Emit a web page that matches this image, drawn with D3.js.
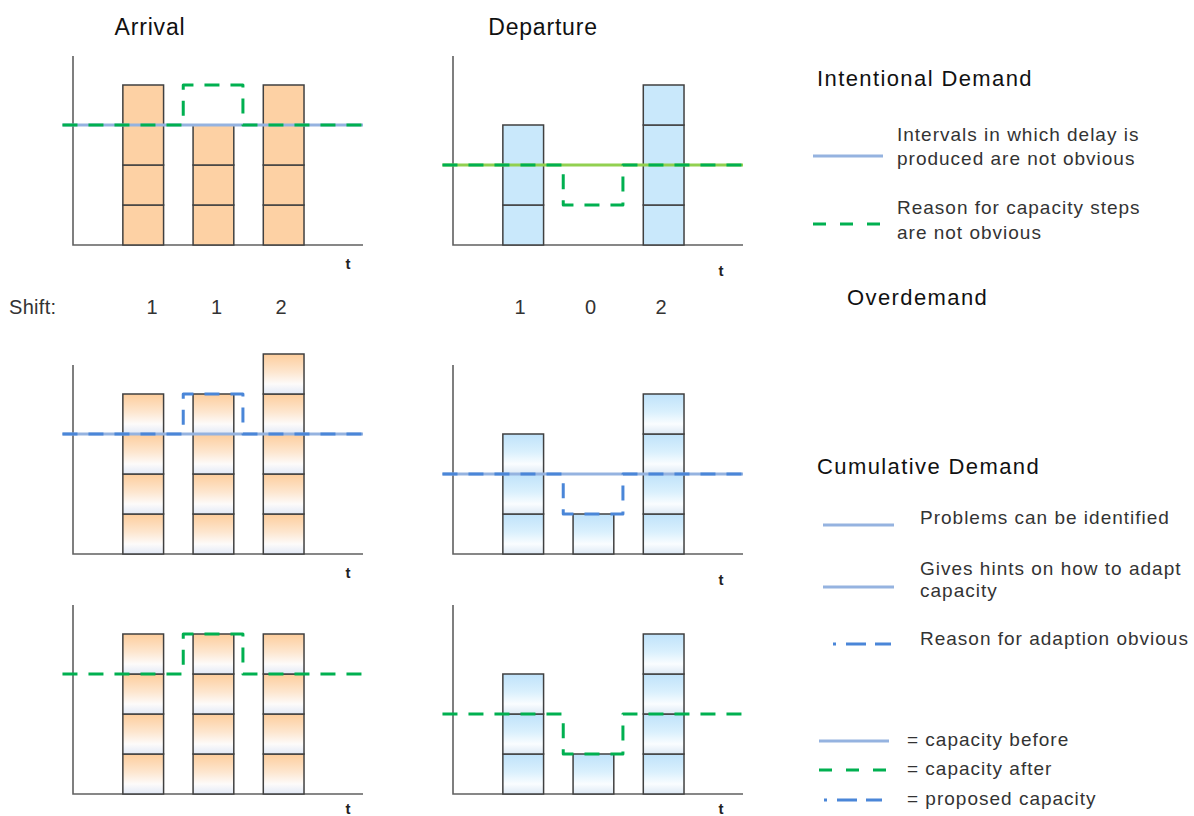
<!DOCTYPE html>
<html>
<head>
<meta charset="utf-8">
<script src="https://cdn.jsdelivr.net/npm/d3@7"></script>
<style>
  body { margin: 0; background: #fff; }
  text { font-family: "Liberation Sans", Arial, sans-serif; }
</style>
</head>
<body>
<div id="chart"></div>
<script>
// Capacity vs. demand sketch: arrival / departure panels + explanatory legend
const width = 1194;
const height = 816;

// demand per time slot (units), one row per panel row
const arrivalDemand = [[4, 3, 4], [4, 4, 5], [4, 4, 4]];
const departureDemand = [[3, 0, 4], [3, 1, 4], [3, 1, 4]];
// capacity before (solid), null = not drawn
const arrivalBefore = [3, 3, null];
const departureBefore = [2, 2, null];
// adapted capacity per slot (dashed step line)
const arrivalAdapted = [[3, 4, 3], [3, 4, 3], [3, 4, 3]];
const departureAdapted = [[2, 1, 2], [2, 1, 2], [2, 1, 2]];
const stepTimes = [1.57, 2.42];
const shiftArrival = ["1", "1", "2"];
const shiftDeparture = ["1", "0", "2"];

const rowStyles = ["green", "blue", "green"];
const rowGradient = [false, true, true];

const colors = {
    lightBlue: "#95b3e0",
    lightGreen: "#92d050",
    green: "#00b050",
    blue: "#4a86d8",
    orange: "#fdd1a4",
    sky: "#c9e8fb",
    axis: "#606060",
    barStroke: "#404040",
    text: "#333"
};

const svg = d3.select("#chart")
    .append("svg")
    .attr("width", width)
    .attr("height", height);

svg.append("rect").attr("width", width).attr("height", height).attr("fill", "#fff");

// gradients for the stacked unit boxes
const defs = svg.append("defs");
function addGrad(id, stops) {
    const g = defs.append("linearGradient").attr("id", id)
        .attr("x1", 0).attr("y1", 0).attr("x2", 0).attr("y2", 1);
    stops.forEach(([o, c]) => g.append("stop").attr("offset", o).attr("stop-color", c));
}
addGrad("gOrange", [["0%", "#fdcd9c"], ["45%", "#fde6cf"], ["75%", "#fdfbfa"], ["100%", "#e2e9f6"]]);
addGrad("gBlue", [["0%", "#bfe2fa"], ["45%", "#daf0fd"], ["75%", "#fafdff"], ["100%", "#dde9f5"]]);

// shared scales (time units / demand units)
const panelW = 290;
const panelH = 189;
const x = d3.scaleLinear().domain([0, 4.13]).range([0, panelW]);
const y = d3.scaleLinear().domain([0, 4.725]).range([panelH, 0]);
const barW = x(0.58);

const baselines = [245, 554, 794];
const panelX = { arrival: 73, departure: 453 };

function stepPoints(levels) {
    return [
        [-0.15, levels[0]], [stepTimes[0], levels[0]],
        [stepTimes[0], levels[1]], [stepTimes[1], levels[1]],
        [stepTimes[1], levels[2]], [4.13, levels[2]]
    ];
}

const line = d3.line().x(d => x(d[0])).y(d => y(d[1]));

function drawPanel(kind, row) {
    const demand = kind === "arrival" ? arrivalDemand[row] : departureDemand[row];
    const before = kind === "arrival" ? arrivalBefore[row] : departureBefore[row];
    const adapted = kind === "arrival" ? arrivalAdapted[row] : departureAdapted[row];
    const g = svg.append("g")
        .attr("transform", `translate(${panelX[kind]},${baselines[row] - panelH})`);

    // axes
    g.append("path")
        .attr("d", `M${x(0)},${y(4.725)}V${y(0)}H${x(4.13)}`)
        .attr("fill", "none")
        .attr("stroke", colors.axis)
        .attr("stroke-width", 1.6);

    const tY = Math.min(y(0) + (kind === "arrival" ? 24 : 31), height - 2 - (baselines[row] - panelH));
    g.append("text")
        .attr("x", x(4.13) - (kind === "arrival" ? 15 : 22))
        .attr("y", tY)
        .attr("text-anchor", "middle")
        .style("font-size", "15px")
        .style("font-weight", "bold")
        .attr("fill", "#222")
        .text("t");

    // unit boxes
    const fill = rowGradient[row]
        ? (kind === "arrival" ? "url(#gOrange)" : "url(#gBlue)")
        : (kind === "arrival" ? colors.orange : colors.sky);
    const boxes = demand.flatMap((n, i) => d3.range(n).map(k => ({ slot: i + 1, k })));
    g.selectAll("rect.box")
        .data(boxes)
        .join("rect")
        .attr("class", "box")
        .attr("x", d => x(d.slot) - barW / 2)
        .attr("y", d => y(d.k + 1))
        .attr("width", barW)
        .attr("height", y(0) - y(1))
        .attr("fill", fill)
        .attr("stroke", colors.barStroke)
        .attr("stroke-width", 1.5);

    // capacity before (solid)
    if (before !== null) {
        g.append("path")
            .attr("d", line([[-0.15, before], [4.13, before]]))
            .attr("fill", "none")
            .attr("stroke", row === 0 && kind === "departure" ? colors.lightGreen : colors.lightBlue)
            .attr("stroke-width", 3);
    }

    // adapted / proposed capacity (dashed step)
    g.append("path")
        .attr("d", line(stepPoints(adapted)))
        .attr("fill", "none")
        .attr("stroke", rowStyles[row] === "green" ? colors.green : colors.blue)
        .attr("stroke-width", 3)
        .attr("stroke-linejoin", "round")
        .attr("stroke-dasharray", "15,11");
}

[0, 1, 2].forEach(r => { drawPanel("arrival", r); drawPanel("departure", r); });

// column titles
svg.append("text").attr("x", 150).attr("y", 35).attr("text-anchor", "middle")
    .style("font-size", "23px").style("letter-spacing", "0.8px").attr("fill", "#111").text("Arrival");
svg.append("text").attr("x", 543).attr("y", 35).attr("text-anchor", "middle")
    .style("font-size", "23px").style("letter-spacing", "0.8px").attr("fill", "#111").text("Departure");

// shift row
const shiftXA = d3.scalePoint().domain(d3.range(3)).range([152, 281]);
const shiftXD = d3.scalePoint().domain(d3.range(3)).range([520, 661]);
svg.append("text").attr("x", 9).attr("y", 314)
    .style("font-size", "20px").style("letter-spacing", "0.3px").attr("fill", colors.text).text("Shift:");
svg.selectAll("text.shiftA")
    .data(shiftArrival)
    .join("text")
    .attr("class", "shiftA")
    .attr("x", (d, i) => shiftXA(i))
    .attr("y", 314)
    .attr("text-anchor", "middle")
    .style("font-size", "20px")
    .attr("fill", colors.text)
    .text(d => d);
svg.selectAll("text.shiftD")
    .data(shiftDeparture)
    .join("text")
    .attr("class", "shiftD")
    .attr("x", (d, i) => shiftXD(i))
    .attr("y", 314)
    .attr("text-anchor", "middle")
    .style("font-size", "20px")
    .attr("fill", colors.text)
    .text(d => d);

// legend
const headers = [
    { text: "Intentional Demand", x: 817, y: 86 },
    { text: "Overdemand", x: 847, y: 305 },
    { text: "Cumulative Demand", x: 817, y: 474 }
];
svg.selectAll("text.hdr")
    .data(headers)
    .join("text")
    .attr("class", "hdr")
    .attr("x", d => d.x)
    .attr("y", d => d.y)
    .style("font-size", "22px")
    .style("letter-spacing", "1.4px")
    .attr("fill", "#111")
    .text(d => d.text);

const solid = { stroke: colors.lightBlue, dash: null };
const dashG = { stroke: colors.green, dash: "13,14" };
const dashB = { stroke: colors.blue, dash: "3,10,20,9,16,10" };

const legendItems = [
    { x1: 813, x2: 883, ly: 156, style: solid, tx: 897, lines: [["Intervals in which delay is", 141], ["produced are not obvious", 165]] },
    { x1: 813, x2: 883, ly: 224, style: dashG, tx: 897, lines: [["Reason for capacity steps", 214], ["are not obvious", 239]] },
    { x1: 823, x2: 894, ly: 525, style: solid, tx: 920, lines: [["Problems can be identified", 524]] },
    { x1: 823, x2: 894, ly: 587, style: solid, tx: 920, lines: [["Gives hints on how to adapt", 575], ["capacity", 597]] },
    { x1: 833, x2: 894, ly: 644, style: dashB, tx: 920, lines: [["Reason for adaption obvious", 645]] },
    { x1: 819, x2: 889, ly: 741, style: solid, tx: 907, lines: [["= capacity before", 746]] },
    { x1: 819, x2: 889, ly: 770, style: dashG, tx: 907, lines: [["= capacity after", 775]] },
    { x1: 824, x2: 889, ly: 800, style: dashB, tx: 907, lines: [["= proposed capacity", 805]] }
];

const lg = svg.append("g");
legendItems.forEach(d => {
    lg.append("line")
        .attr("x1", d.x1).attr("x2", d.x2)
        .attr("y1", d.ly).attr("y2", d.ly)
        .attr("stroke", d.style.stroke)
        .attr("stroke-width", 3)
        .attr("stroke-dasharray", d.style.dash);
    d.lines.forEach(([t, ty]) => {
        lg.append("text")
            .attr("x", d.tx).attr("y", ty)
            .style("font-size", "19px")
            .style("letter-spacing", "1px")
            .attr("fill", colors.text)
            .text(t);
    });
});
</script>
</body>
</html>
